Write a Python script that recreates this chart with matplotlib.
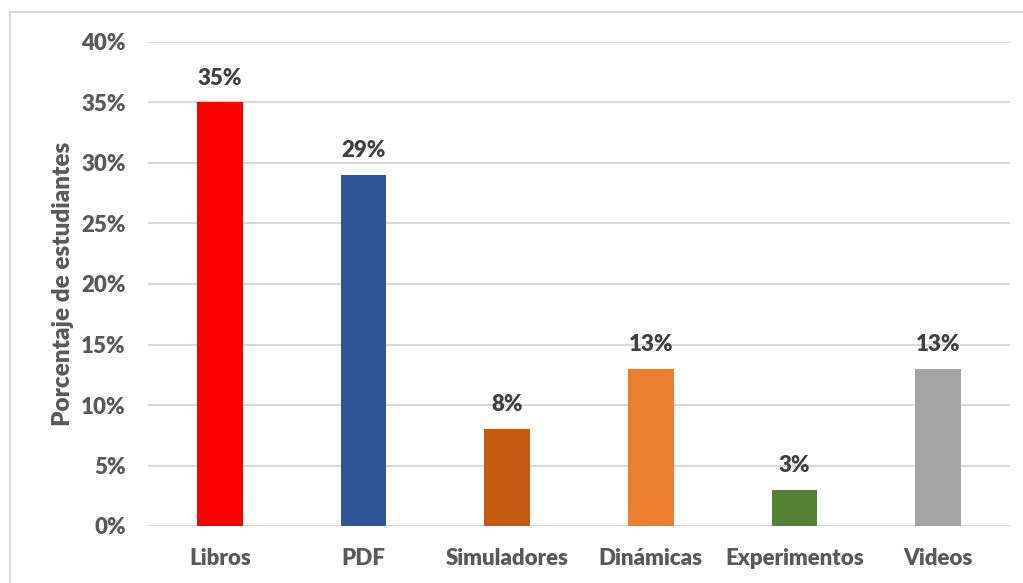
import matplotlib.pyplot as plt
from matplotlib.patches import Rectangle

categorias = ["Libros", "PDF", "Simuladores", "Dinámicas", "Experimentos", "Videos"]
porcentajes = [35, 29, 8, 13, 3, 13]
colores = ["#FF0000", "#2F5597", "#C55A11", "#ED7D31", "#548235", "#A5A5A5"]
ticks_y = [0, 5, 10, 15, 20, 25, 30, 35, 40]

plt.rcParams['font.family'] = ['Lato', 'DejaVu Sans']
W = "heavy"

fig = plt.figure(figsize=(10.23, 5.83), dpi=100)
ax = fig.add_axes([148/1023, 1 - 526/583, 862/1023, 484/583])

# borde del grafico (se sale por la derecha y abajo)
fig.patches.append(Rectangle((10/1023, -0.05), 1.05, 1 - 12/583 + 0.05,
                             transform=fig.transFigure, fill=False,
                             edgecolor="#D9D9D9", linewidth=1.5))

x = list(range(len(categorias)))
ax.bar(x, porcentajes, width=0.32, color=colores, zorder=3)

for xi, v in zip(x, porcentajes):
    ax.text(xi, v + 1.15, f"{v}%", ha="center", va="bottom",
            fontsize=16, fontweight=W, color="#404040")

ax.set_xlim(-0.5, len(categorias) - 0.5)
ax.set_ylim(0, 40)
ax.set_yticks(ticks_y)
ax.set_yticklabels([f"{t}%" for t in ticks_y])
ax.set_xticks(x)
ax.set_xticklabels(categorias)
ax.tick_params(axis="both", length=0, labelsize=16, colors="#595959")
ax.tick_params(axis="y", pad=16)
ax.tick_params(axis="x", pad=16)
for lbl in ax.get_xticklabels() + ax.get_yticklabels():
    lbl.set_fontweight(W)

ax.grid(axis="y", color="#D9D9D9", linewidth=1.5, zorder=0)
for s in ax.spines.values():
    s.set_visible(False)

ax.set_ylabel("Porcentaje de estudiantes", fontsize=17.5, fontweight=W,
              color="#595959", labelpad=5)

fig.savefig("out.png", dpi=100)
